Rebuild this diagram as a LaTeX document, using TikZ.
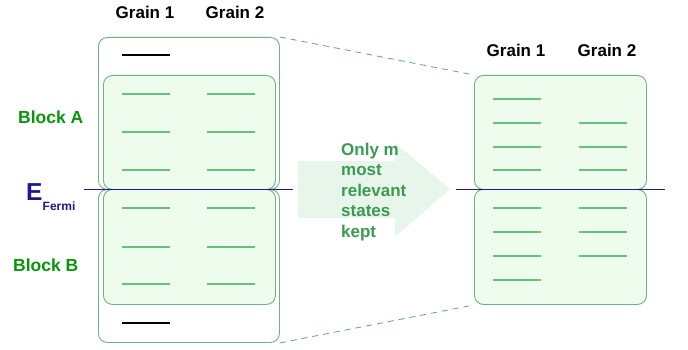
\documentclass[tikz,border=0pt]{standalone}
\usepackage{fontspec}
\setmainfont{Liberation Sans}
\definecolor{boxline}{HTML}{6FB27F}
\definecolor{boxfill}{HTML}{EEFCEE}
\definecolor{level}{HTML}{66C27A}
\definecolor{blocktxt}{HTML}{0A960A}
\definecolor{fermi}{HTML}{1A1A8C}
\definecolor{arrowfill}{HTML}{E8F5EA}
\definecolor{arrowtxt}{HTML}{3C9A55}
\definecolor{dashcol}{HTML}{5FA872}
\tikzset{
  outerbox/.style={draw=boxline, line width=0.9pt, rounded corners=9pt, fill=white},
  innerbox/.style={draw=boxline, line width=0.9pt, rounded corners=9pt, fill=boxfill},
  lvl/.style={draw=level, line width=1.3pt},
  blk/.style={draw=black, line width=1.3pt},
  fermiline/.style={draw=fermi, line width=0.8pt},
  grainlbl/.style={font=\fontsize{17}{20}\selectfont\bfseries, inner sep=0pt},
  blocklbl/.style={font=\fontsize{17.5}{20}\selectfont\bfseries, text=blocktxt, inner sep=0pt},
  dashconn/.style={draw=dashcol, dash pattern=on 6pt off 5pt, line width=0.8pt},
}
\begin{document}
\begin{tikzpicture}[x=1pt,y=-1pt]
\useasboundingbox (0,0) rectangle (688,350);
\fill[white] (0,0) rectangle (688,350);

% left outer boxes
\node[outerbox, minimum width=181pt, minimum height=152pt, anchor=north west, inner sep=0pt] (outA) at (98,37) {};
\node[outerbox, minimum width=181pt, minimum height=153pt, anchor=north west, inner sep=0pt] (outB) at (98,189) {};
% left inner boxes
\node[innerbox, minimum width=172pt, minimum height=114pt, anchor=north west, inner sep=0pt] (inA) at (103,75) {};
\node[innerbox, minimum width=172pt, minimum height=115pt, anchor=north west, inner sep=0pt] (inB) at (103,189) {};

% black levels
\coordinate (bA1) at (122,55); \coordinate (bA2) at (170,55);
\draw[blk] (bA1) -- (bA2);
\coordinate (bB1) at (122,323); \coordinate (bB2) at (170,323);
\draw[blk] (bB1) -- (bB2);

% green levels left
\foreach \y in {94,132,170,208,247,284}{
  \draw[lvl] (122,\y) -- (170,\y);
  \draw[lvl] (207,\y) -- (255,\y);
}

% right boxes
\node[innerbox, minimum width=172pt, minimum height=114pt, anchor=north west, inner sep=0pt] (rA) at (474,75) {};
\node[innerbox, minimum width=172pt, minimum height=115pt, anchor=north west, inner sep=0pt] (rB) at (474,189) {};

\foreach \y in {99,123,147,170,208,232,256,280}{
  \draw[lvl] (493,\y) -- (541,\y);
}
\foreach \y in {123,147,170,208,232,256}{
  \draw[lvl] (579,\y) -- (627,\y);
}

% Fermi lines
\coordinate (fl1) at (84,189); \coordinate (fl2) at (293,189);
\draw[fermiline] (fl1) -- (fl2);
\coordinate (fr1) at (456,189); \coordinate (fr2) at (665,189);
\draw[fermiline] (fr1) -- (fr2);

% dashed connectors
\draw[dashconn] (outA.north east) -- (rA.north west);
\draw[dashconn] (outB.south east) -- (rB.south west);

% arrow
\fill[arrowfill] (298,161) -- (395,161) -- (395,143) -- (450,189) -- (395,237) -- (395,218) -- (298,218) -- cycle;
\node[anchor=west, inner sep=0pt, align=left, text=arrowtxt, font=\fontsize{17}{20.5}\selectfont\bfseries] (atxt) at (341,192) {Only m\\most\\relevant\\states\\kept};

% labels
\node[grainlbl] (g1) at (145,12) {Grain 1};
\node[grainlbl] (g2) at (235,12) {Grain 2};
\node[grainlbl] (g3) at (516,50) {Grain 1};
\node[grainlbl] (g4) at (607,50) {Grain 2};
\node[blocklbl, anchor=west] (blA) at (18,117) {Block A};
\node[blocklbl, anchor=west] (blB) at (13,265) {Block B};
\node[anchor=base west, inner sep=0pt, text=fermi, font=\fontsize{24.5}{24}\selectfont\bfseries] (eF) at (26,200.5) {E};
\node[anchor=base west, inner sep=0pt, text=fermi, font=\fontsize{12}{12}\selectfont\bfseries] (eFs) at (42.5,210) {Fermi};
\end{tikzpicture}
\end{document}
